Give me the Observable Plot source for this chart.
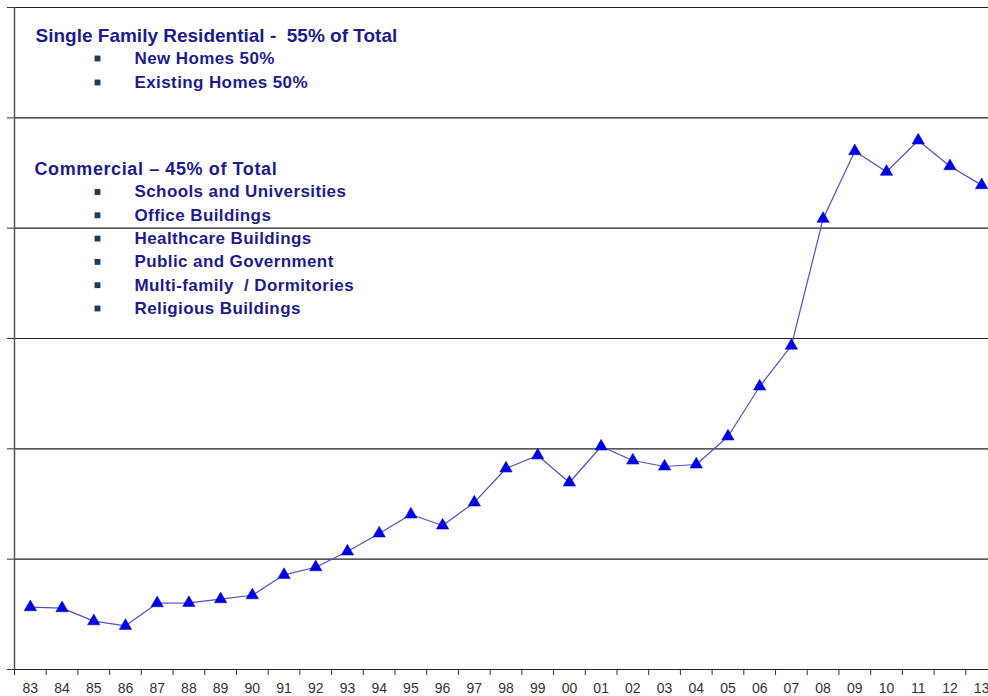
<!DOCTYPE html>
<html>
<head>
<meta charset="utf-8">
<script src="https://cdn.jsdelivr.net/npm/d3@7"></script>
<script src="https://cdn.jsdelivr.net/npm/@observablehq/plot@0.6"></script>
<style>
  html, body { margin: 0; padding: 0; background: #fff; overflow: hidden; }
  #chart svg { overflow: visible; }
</style>
</head>
<body>
<div id="chart"></div>
<script>
const years = ["83","84","85","86","87","88","89","90","91","92","93","94","95","96","97","98","99","00","01","02","03","04","05","06","07","08","09","10","11","12","13"];
const values = [5.65,5.56,4.38,3.96,6.01,6.04,6.37,6.73,8.58,9.27,10.7,12.33,14.05,13.05,15.14,18.22,19.4,16.95,20.21,18.94,18.4,18.58,21.12,25.65,29.35,40.85,46.98,45.11,47.95,45.62,43.9];
const gridValues = [0,10,20,30,40,50,60];

const residentialTitle = "Single Family Residential -  55% of Total";
const residentialItems = ["New Homes 50%","Existing Homes 50%"];
const commercialTitle = "Commercial \u2013 45% of Total";
const commercialItems = ["Schools and Universities","Office Buildings","Healthcare Buildings","Public and Government","Multi-family  / Dormitories","Religious Buildings"];

const data = years.map((y, i) => ({i, year: y, value: values[i]}));
const edges = d3.range(years.length + 1).map(i => i - 0.5);

const textColor = "#1c1c8e";
const bulletColor = "#203a5a";
const font = "'Liberation Sans', Arial, sans-serif";
const mTop = 7;

const itemMarks = [];
function addItems(items, startY, step) {
  items.forEach((t, k) => {
    const cy = startY + k * step - mTop;
    itemMarks.push(Plot.text([t], {text: d => d, frameAnchor: "top-left", dx: 120, dy: cy, textAnchor: "start", lineAnchor: "middle", fontSize: 17, fontWeight: "bold", fill: textColor, className: "item"}));
    itemMarks.push(Plot.dot([t], {frameAnchor: "top-left", dx: 83, dy: cy, symbol: "square", r: 3.3, fill: bulletColor, stroke: "none"}));
  });
}
addItems(residentialItems, 58, 24);
addItems(commercialItems, 191.5, 23.3);

const chart = Plot.plot({
  width: 988,
  height: 696,
  marginLeft: 14,
  marginRight: -9,
  marginTop: mTop,
  marginBottom: 27,
  style: {fontFamily: font, background: "white", overflow: "visible"},
  x: {type: "linear", domain: [-0.5, years.length - 0.5], label: null},
  y: {domain: [0, 60], label: null},
  marks: [
    Plot.ruleY(gridValues, {stroke: "#222", strokeWidth: 1.1}),
    Plot.axisY(gridValues, {anchor: "left", tickSize: 7, tickFormat: () => "", stroke: "#333", label: null}),
    Plot.ruleX([edges[0]], {stroke: "#555", strokeWidth: 1.5, y1: 0, y2: 60}),
    Plot.ruleX(edges, {stroke: "#333", y1: 0, y2: -6 * 60 / 662, clip: false}),
    Plot.axisX(d3.range(years.length), {anchor: "bottom", tickSize: 0, tickPadding: 14, tickFormat: i => years[i], fontSize: 14, fill: "#333", label: null}),
    Plot.line(data, {x: "i", y: "value", stroke: "#5050c8", strokeWidth: 1.2}),
    Plot.dot(data, {x: "i", y: "value", symbol: "triangle", r: 4.6, fill: "#0000e6", stroke: "#0000c0", strokeWidth: 0.5}),
    Plot.text([residentialTitle], {text: d => d, frameAnchor: "top-left", dx: 21, dy: 35 - mTop, textAnchor: "start", lineAnchor: "middle", fontSize: 19, fontWeight: "bold", fill: textColor}),
    Plot.text([commercialTitle], {text: d => d, frameAnchor: "top-left", dx: 20, dy: 169 - mTop, textAnchor: "start", lineAnchor: "middle", fontSize: 18, fontWeight: "bold", fill: textColor, className: "ctitle"}),
    ...itemMarks
  ]
});
d3.select(chart).selectAll("g.item text").style("letter-spacing", "0.4px");
d3.select(chart).selectAll("g.ctitle text").style("letter-spacing", "0.6px");
document.getElementById("chart").append(chart);
</script>
</body>
</html>
